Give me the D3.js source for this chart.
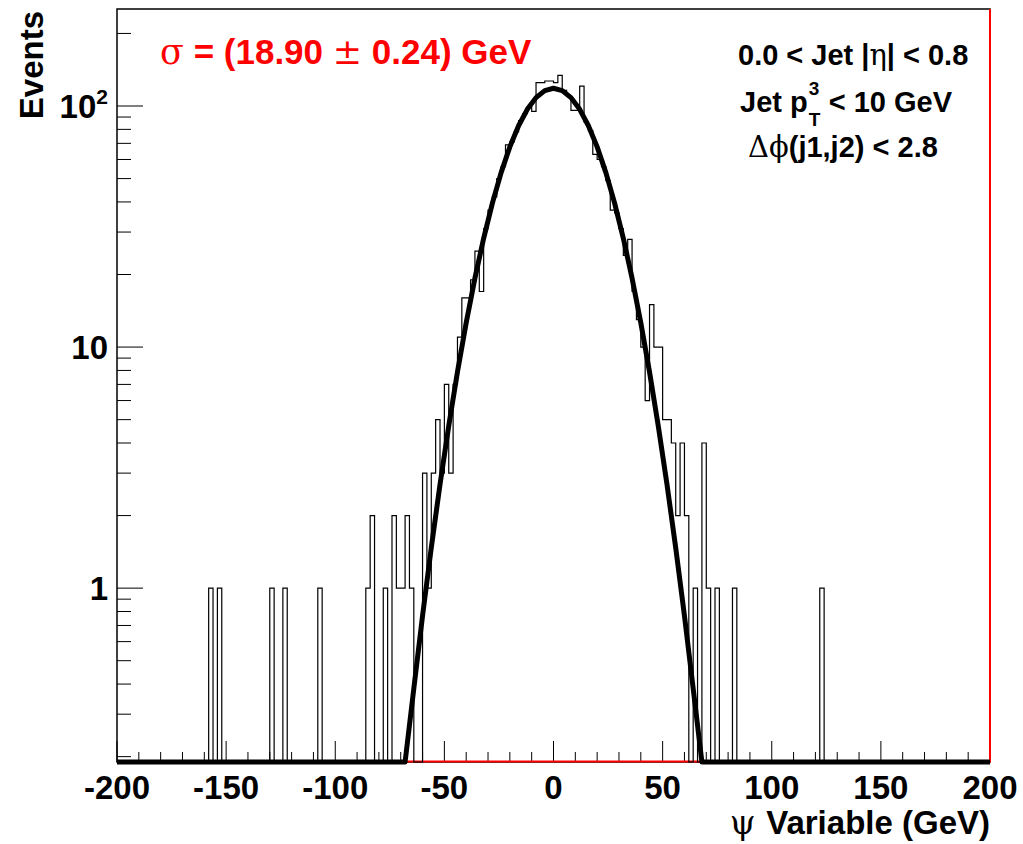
<!DOCTYPE html>
<html>
<head>
<meta charset="utf-8">
<script src="https://cdn.jsdelivr.net/npm/d3@7/dist/d3.min.js"></script>
<style>
    body { margin: 0; background: #fff; }
    svg { display: block; }
    text { font-family: "Liberation Sans", Arial, Helvetica, sans-serif; font-weight: bold; }
    .greek { font-family: "DejaVu Serif", "Liberation Serif", serif; font-weight: normal; }
</style>
</head>
<body>
<svg id="chart" width="1023" height="844"></svg>
<script>
// psi histogram, 2 GeV bins from -200 to 200; only the filled bins are listed
const binLowEdges = [
    -158, -154, -130, -124, -108, -86, -84, -78, -74, -72, -70, -68, -66,
    -60, -58, -56, -54, -52, -50, -48, -46, -44, -42, -40, -38, -36, -34, -32, -30,
    -28, -26, -24, -22, -20, -18, -16, -14, -12, -10, -8, -6, -4, -2,
    0, 2, 4, 6, 8, 10, 12, 14, 16, 18, 20, 22, 24, 26, 28,
    30, 32, 34, 36, 38, 40, 42, 44, 46, 48, 50, 52, 54, 56, 58,
    60, 64, 68, 70, 74, 82, 122
];
const binCounts = [
    1, 1, 1, 1, 1, 1, 2, 1, 2, 1, 1, 2, 1,
    3, 1, 3, 5, 3, 7, 3, 7, 11, 16, 16, 19, 25, 17, 31, 37,
    42, 50, 56, 69, 71, 78, 87, 93, 99, 95, 125, 125, 127, 127,
    125, 134, 116, 110, 96, 96, 121, 86, 79, 63, 60, 56, 49, 37, 36,
    31, 24, 28, 17, 13, 10, 6, 15, 10, 10, 5, 5, 4, 2, 4,
    2, 1, 4, 1, 1, 1, 1
];
const xRange = [-200, 200];
const binWidth = 2;
const xMajorTicks = [-200, -150, -100, -50, 0, 50, 100, 150, 200];
const yDecadeTicks = [1, 10, 100];
const yDecadeLabels = [["1", ""], ["10", ""], ["10", "2"]];

// gaussian fit result
const fitConstant = 118.5;
const fitMean = 0.0;
const fitSigma = 18.90;
const fitSigmaError = 0.24;

const xTitle = "Variable (GeV)";
const yTitle = "Events";

const margin = { left: 117, right: 990, top: 9, bottom: 762 };
const yMin = 0.19;
const yMax = 252.6;

const svg = d3.select("#chart");

const x = d3.
scaleLinear().
domain(xRange).
range([margin.left, margin.right]);

const y = d3.
scaleLog().
domain([yMin, yMax]).
range([margin.bottom, margin.top]);

// frame
svg.
append("rect").
attr("x", margin.left).
attr("y", margin.top).
attr("width", margin.right - margin.left).
attr("height", margin.bottom - margin.top).
attr("fill", "none").
attr("stroke", "#000").
attr("stroke-width", 1.5);

// x ticks, every 10 GeV, long ones every 50
const xTicks = d3.range(xRange[0], xRange[1] + 1, 10);
svg.
append("g").
selectAll("line").
data(xTicks).
join("line").
attr("x1", d => x(d)).
attr("x2", d => x(d)).
attr("y1", margin.bottom).
attr("y2", d => margin.bottom - (d % 50 === 0 ? 21 : 10)).
attr("stroke", "#000").
attr("stroke-width", 1);

svg.
append("g").
selectAll("text").
data(xMajorTicks).
join("text").
attr("x", d => x(d)).
attr("y", 799).
attr("text-anchor", "middle").
style("font-size", "33px").
text(d => d);

// y ticks on the log axis
const yMinor = [];
[0.1, 1, 10, 100].forEach(dec => {
    for (let m = 2; m <= 9; m++) {
        const v = m * dec;
        if (v >= yMin && v <= yMax) yMinor.push(v);
    }
});

svg.
append("g").
selectAll("line").
data(yMinor).
join("line").
attr("x1", margin.left).
attr("x2", margin.left + 14).
attr("y1", d => y(d)).
attr("y2", d => y(d)).
attr("stroke", "#000");

svg.
append("g").
selectAll("line").
data(yDecadeTicks).
join("line").
attr("x1", margin.left).
attr("x2", margin.left + 26).
attr("y1", d => y(d)).
attr("y2", d => y(d)).
attr("stroke", "#000");

const yLabels = svg.
append("g").
selectAll("text").
data(yDecadeTicks).
join("text").
attr("x", 108).
attr("y", d => y(d) + 12).
attr("text-anchor", "end").
style("font-size", "33px");

yLabels.
append("tspan").
text((d, i) => yDecadeLabels[i][0]);

yLabels.
append("tspan").
attr("dy", -14).
style("font-size", "21px").
text((d, i) => yDecadeLabels[i][1]);

// red line along bottom and right edge
svg.
append("path").
attr("d", `M${margin.left},${margin.bottom - 0.5}H${margin.right}V${margin.top}`).
attr("fill", "none").
attr("stroke", "#ff0000").
attr("stroke-width", 2);

// histogram outline
const counts = new Array((xRange[1] - xRange[0]) / binWidth).fill(0);
binLowEdges.forEach((lo, i) => {
    counts[(lo - xRange[0]) / binWidth] = binCounts[i];
});

const histPts = [[xRange[0], 0]];
counts.forEach((c, i) => {
    const lo = xRange[0] + i * binWidth;
    histPts.push([lo, c]);
    histPts.push([lo + binWidth, c]);
});
histPts.push([xRange[1], 0]);

svg.
append("path").
datum(histPts).
attr("fill", "none").
attr("stroke", "#000").
attr("stroke-width", 1.2).
attr("d", d3.line().
x(d => x(d[0])).
y(d => d[1] > 0 ? y(d[1]) : margin.bottom));

// fit function, sampled like ROOT (100 points over the range), clamped at the minimum
const fitX = d3.range(xRange[0], xRange[1] + 0.001, (xRange[1] - xRange[0]) / 100);
const gaus = v => fitConstant * Math.exp(-0.5 * Math.pow((v - fitMean) / fitSigma, 2));

svg.
append("path").
datum(fitX).
attr("fill", "none").
attr("stroke", "#000").
attr("stroke-width", 5).
attr("stroke-linejoin", "round").
attr("d", d3.line().
x(d => x(d)).
y(d => y(Math.max(gaus(d), yMin))));

// axis titles
svg.
append("text").
attr("transform", "translate(43," + (margin.top + 2) + ") rotate(-90)").
attr("text-anchor", "end").
style("font-size", "33px").
text(yTitle);

const xt = svg.
append("text").
attr("x", margin.right).
attr("y", 834).
attr("text-anchor", "end").
style("font-size", "33px");
xt.append("tspan").attr("class", "greek").text("\u03c8 ");
xt.append("tspan").text(xTitle);

// fit result
const sig = svg.
append("text").
attr("x", 160).
attr("y", 64).
attr("fill", "#ff0000").
style("font-size", "35px");
sig.append("tspan").attr("class", "greek").text("\u03c3");
sig.append("tspan").text(` = (${fitSigma.toFixed(2)} `);
sig.append("tspan").attr("class", "greek").text("\u00b1");
sig.append("tspan").text(` ${fitSigmaError.toFixed(2)}) GeV`);

// selection cuts
const cut1 = svg.
append("text").
attr("x", 738).
attr("y", 65).
style("font-size", "29px");
cut1.append("tspan").text("0.0 < Jet |");
cut1.append("tspan").attr("class", "greek").text("\u03b7");
cut1.append("tspan").text("| < 0.8");

const cut2 = svg.
append("text").
attr("x", 740).
attr("y", 112).
style("font-size", "29px").
text("Jet p");
const pw = cut2.node().getComputedTextLength();

svg.
append("text").
attr("x", 740 + pw + 1).
attr("y", 95).
style("font-size", "19px").
text("3");

svg.
append("text").
attr("x", 740 + pw + 1).
attr("y", 126).
style("font-size", "19px").
text("T");

svg.
append("text").
attr("x", 740 + pw + 21).
attr("y", 112).
style("font-size", "29px").
text("< 10 GeV");

const cut3 = svg.
append("text").
attr("x", 748).
attr("y", 157).
style("font-size", "29px");
cut3.append("tspan").attr("class", "greek").text("\u0394\u03d5");
cut3.append("tspan").text("(j1,j2) < 2.8");
</script>
</body>
</html>
